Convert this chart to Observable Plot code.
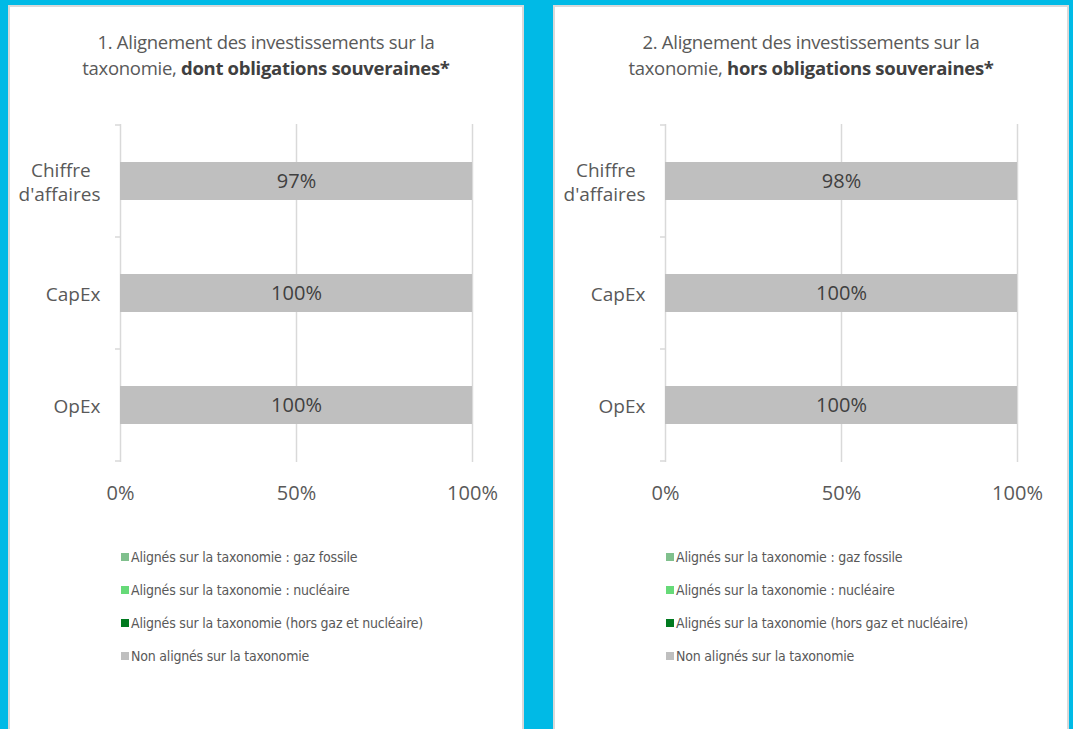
<!DOCTYPE html>
<html><head><meta charset="utf-8">
<script src="https://cdn.jsdelivr.net/npm/d3@7"></script>
<script src="https://cdn.jsdelivr.net/npm/@observablehq/plot@0.6"></script>
<style>
html,body{margin:0;padding:0;background:#00BAE6;width:1073px;height:729px;overflow:hidden;font-family:"Open Sans",sans-serif;}
.panel{position:absolute;top:5px;width:516px;height:740px;box-sizing:border-box;border:2px solid #D9D9D9;border-bottom:none;background:#fff;}
.title{position:absolute;left:0;right:0;top:22px;text-align:center;font-size:18.5px;line-height:26px;color:#595959;letter-spacing:-0.3px;}
.title b{font-weight:700;color:#404040;}
.chart{position:absolute;left:0;top:93px;}
.legend{position:absolute;left:111px;top:533px;font-family:"Liberation Sans Narrow","DejaVu Sans Condensed",sans-serif;font-size:14px;letter-spacing:-0.2px;color:#595959;}
.legend .row{height:33px;display:flex;align-items:center;white-space:nowrap;}
.legend .sw{width:8px;height:8px;margin-right:2px;flex:none;}
</style></head><body>
<div id="p1" class="panel" style="left:8px"></div>
<div id="p2" class="panel" style="left:553px"></div>
<script>
// ---- data ----
const categories = ["Chiffre d'affaires", "CapEx", "OpEx"];
const categoryLabels = ["Chiffre\u00A0\u00A0\nd'affaires", "CapEx", "OpEx"];
const seriesNames = [
  "Alignés sur la taxonomie : gaz fossile",
  "Alignés sur la taxonomie : nucléaire",
  "Alignés sur la taxonomie (hors gaz et nucléaire)",
  "Non alignés sur la taxonomie"
];
const seriesColors = ["#80C08D", "#66DA78", "#007A1F", "#BFBFBF"];
const xTicks = [0, 50, 100];

// Chart 1 : dont obligations souveraines
const title1 = ["1. Alignement des investissements sur la", "taxonomie, ", "dont obligations souveraines*"];
const gazFossile1 = [0, 0, 0];
const nucleaire1 = [0, 0, 0];
const horsGazNucleaire1 = [0, 0, 0];
const nonAlignesBar1 = [100, 100, 100];     // bar length as drawn
const nonAlignesLabel1 = [97, 100, 100];    // printed value

// Chart 2 : hors obligations souveraines
const title2 = ["2. Alignement des investissements sur la", "taxonomie, ", "hors obligations souveraines*"];
const gazFossile2 = [0, 0, 0];
const nucleaire2 = [0, 0, 0];
const horsGazNucleaire2 = [0, 0, 0];
const nonAlignesBar2 = [100, 100, 100];
const nonAlignesLabel2 = [98, 100, 100];

// ---- build ----
function makeChart(series, labels) {
  const rows = [];
  seriesNames.forEach((s, si) => categories.forEach((c, ci) =>
    rows.push({category: c, series: s, value: series[si][ci]})));
  const labelRows = categories.map((c, ci) => ({
    category: c,
    label: labels[ci] + "%",
    total: d3.sum(series, v => v[ci])
  }));
  return Plot.plot({
    width: 512, height: 420,
    marginTop: 24, marginBottom: 58, marginLeft: 110, marginRight: 50,
    style: {fontFamily: "'Open Sans', sans-serif", fontSize: "20px", color: "#595959", background: "transparent", overflow: "visible"},
    x: {domain: [0, 100], axis: null, label: null},
    y: {domain: categories, paddingInner: 0, paddingOuter: 0, axis: null, label: null},
    color: {domain: seriesNames, range: seriesColors},
    marks: [
      Plot.ruleX(xTicks, {stroke: "#D9D9D9", strokeWidth: 1.5}),
      Plot.barX(rows, Plot.stackX({x: "value", y: "category", fill: "series", order: seriesNames, insetTop: 37, insetBottom: 37})),
      Plot.frame({stroke: "none", render(index, scales) {
        const y = scales.y, x = scales.x;
        const bw = y.bandwidth ? y.bandwidth() : scales.scales.y.bandwidth;
        const x0 = x(0);
        const edges = categories.map(c => y(c)).concat([y(categories[categories.length - 1]) + bw]);
        const g = d3.create("svg:g").attr("stroke", "#D9D9D9").attr("stroke-width", 1.5);
        for (const e of edges) g.append("line").attr("x1", x0 - 5).attr("x2", x0).attr("y1", e).attr("y2", e);
        return g.node();
      }}),
      Plot.text(labelRows, {x: d => d.total / 2, y: "category", text: "label", fill: "#404040", fontSize: 20}),
      Plot.text(categories, {y: d => d, text: (d, i) => categoryLabels[i], frameAnchor: "left", textAnchor: "end", dx: -20, lineHeight: 1.28, fontSize: 19, fill: "#595959"}),
      Plot.axisX(xTicks, {tickSize: 0, tickPadding: 23, tickFormat: d => d + "%", fill: "#595959", label: null})
    ]
  });
}

function panel(id, title, series, labels) {
  const p = document.getElementById(id);
  const t = document.createElement("div");
  t.className = "title";
  t.innerHTML = `${title[0]}<br>${title[1]}<b>${title[2]}</b>`;
  p.appendChild(t);
  const c = document.createElement("div");
  c.className = "chart";
  c.appendChild(makeChart(series, labels));
  p.appendChild(c);
  const l = document.createElement("div");
  l.className = "legend";
  seriesNames.forEach((s, i) => {
    const r = document.createElement("div");
    r.className = "row";
    r.innerHTML = `<span class="sw" style="background:${seriesColors[i]}"></span><span>${s}</span>`;
    l.appendChild(r);
  });
  p.appendChild(l);
}

panel("p1", title1, [gazFossile1, nucleaire1, horsGazNucleaire1, nonAlignesBar1], nonAlignesLabel1);
panel("p2", title2, [gazFossile2, nucleaire2, horsGazNucleaire2, nonAlignesBar2], nonAlignesLabel2);
</script>
</body></html>
